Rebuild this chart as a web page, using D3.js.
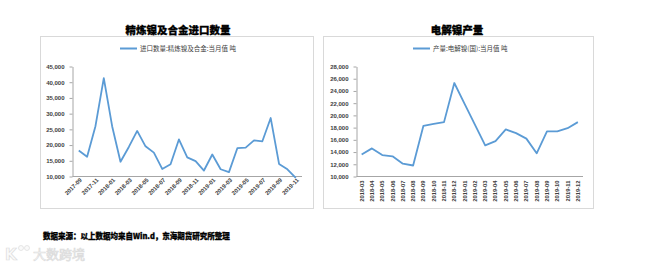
<!DOCTYPE html>
<html>
<head>
<meta charset="utf-8">
<script src="https://cdn.jsdelivr.net/npm/d3@7"></script>
<style>
  body { margin: 0; background: #fff; }
  svg { display: block; font-family: "Liberation Sans", "Noto Sans CJK SC", sans-serif; }
</style>
</head>
<body>
<svg id="chart" width="658" height="269"></svg>
<script>
// left: 精炼镍及合金进口数量
const importMonths = ['2017-09','2017-10','2017-11','2017-12','2018-01','2018-02','2018-03','2018-04',
    '2018-05','2018-06','2018-07','2018-08','2018-09','2018-10','2018-11','2018-12','2019-01','2019-02',
    '2019-03','2019-04','2019-05','2019-06','2019-07','2019-08','2019-09','2019-10','2019-11']
const importValues = [18300, 16300, 26000, 41300, 26000, 14700, 19400, 24500, 19600, 17600, 12400, 13900,
    21800, 16100, 14900, 11900, 17000, 12300, 11400, 19000, 19200, 21500, 21200, 28600, 14000, 12300, 9600]
const importTicks = [10000, 15000, 20000, 25000, 30000, 35000, 40000, 45000]

// right: 电解镍产量
const prodMonths = ['2018-03','2018-04','2018-05','2018-06','2018-07','2018-08','2018-09','2018-10',
    '2018-11','2018-12','2019-01','2019-02','2019-03','2019-04','2019-05','2019-06','2019-07','2019-08',
    '2019-09','2019-10','2019-11','2019-12']
const prodValues = [13600, 14600, 13500, 13300, 12100, 11800, 18300, 18600, 18900, 25300, 21900, 18500,
    15100, 15800, 17700, 17100, 16200, 13800, 17400, 17400, 17900, 18900]
const prodTicks = d3.range(10000, 28001, 2000)

const svg = d3.select('#chart')
const blue = '#5b9bd5'
const axisGrey = '#a6a6a6'
const fmt = d3.format(',')

function panel(opts) {
    const g = svg.append('g')

    // frame
    g.append('rect')
        .attr('x', opts.box[0] + .5).attr('y', opts.box[1] + .5)
        .attr('width', opts.box[2]).attr('height', opts.box[3])
        .attr('fill', '#fff').attr('stroke', '#d9d9d9')

    // title
    g.append('text')
        .attr('x', opts.titleX).attr('y', 34)
        .attr('text-anchor', 'middle')
        .attr('font-size', 10.5).attr('font-weight', 900)
        .attr('stroke', '#000').attr('stroke-width', .3)
        .attr('font-family', '"Noto Sans CJK SC", sans-serif')
        .text(opts.title)

    // legend
    g.append('line')
        .attr('x1', opts.legendX).attr('x2', opts.legendX + 17)
        .attr('y1', 48.5).attr('y2', 48.5)
        .attr('stroke', blue).attr('stroke-width', 2)
    g.append('text')
        .attr('x', opts.legendX + 20).attr('y', 51)
        .attr('font-size', 6.5)
        .attr('font-family', '"Noto Sans CJK SC", sans-serif')
        .attr('fill', '#404040')
        .text(opts.legend)

    const y = d3.scaleLinear()
        .domain(d3.extent(opts.ticks))
        .range([176.5, 66.5])

    const x = opts.x

    // y axis
    const ya = g.append('g')
        .attr('transform', `translate(${opts.left},0)`)
        .call(d3.axisLeft(y).tickValues(opts.ticks).tickFormat(fmt).tickSize(3).tickSizeOuter(0))
    ya.select('.domain').attr('stroke', axisGrey)
    ya.selectAll('.tick line').attr('stroke', axisGrey)
    ya.selectAll('.tick text')
        .attr('font-size', 6).attr('font-weight', 'bold').attr('fill', '#404040')
        .attr('font-family', '"Liberation Sans", sans-serif')
        .attr('dx', '-2')

    // x axis
    const xa = g.append('g')
        .attr('transform', 'translate(0,176.5)')
        .call(d3.axisBottom(x).tickValues(opts.xTicks).tickSize(0).tickSizeOuter(0))
    xa.select('.domain').attr('stroke', axisGrey).attr('d', `M${opts.left},0H${opts.right}`)
    xa.selectAll('.tick text')
        .attr('font-size', 5.8).attr('font-weight', 'bold').attr('fill', '#404040')
        .attr('font-family', '"Liberation Sans", sans-serif')
        .attr('text-anchor', 'end')
        .attr('dy', null).attr('y', 0)
        .attr('transform', opts.labelTransform)

    // line
    const line = d3.line()
        .x(d => x(d[0]) + (x.bandwidth ? x.bandwidth() / 2 : 0))
        .y(d => y(d[1]))
    g.append('path')
        .datum(d3.zip(opts.months, opts.values))
        .attr('d', line)
        .attr('fill', 'none')
        .attr('stroke', blue)
        .attr('stroke-width', 1.8)
        .attr('stroke-linejoin', 'round')
}

panel({
    box: [40, 36, 273, 172],
    title: '精炼镍及合金进口数量',
    titleX: 178,
    legend: '进口数量:精炼镍及合金:当月值 吨',
    legendX: 120,
    ticks: importTicks,
    left: 72.5, right: 302,
    x: d3.scalePoint().domain(importMonths).range([72.5, 302]).padding(.75),
    xTicks: importMonths.filter((d, i) => i % 2 === 0),
    months: importMonths, values: importValues,
    labelTransform: 'translate(3,4) rotate(-45)'
})

panel({
    box: [323, 36, 270, 172],
    title: '电解镍产量',
    titleX: 457,
    legend: '产量:电解镍(国):当月值 吨',
    legendX: 413,
    ticks: prodTicks,
    left: 356.5, right: 583,
    x: d3.scaleBand().domain(prodMonths).range([356.5, 583]),
    xTicks: prodMonths,
    months: prodMonths, values: prodValues,
    labelTransform: 'translate(2,4) rotate(-90)'
})

// source note
svg.append('text')
    .attr('x', 43).attr('y', 239)
    .attr('font-size', 7.5).attr('font-weight', 900)
    .attr('stroke', '#000').attr('stroke-width', .3)
    .attr('font-family', '"Noto Sans CJK SC", sans-serif')
    .text('数据来源：以上数据均来自Win.d，东海期货研究所整理')

// watermark
const wm = svg.append('g').attr('fill', '#fafafa').attr('stroke', '#dcdcdc').attr('stroke-width', .7)
wm.append('text')
    .attr('x', 5).attr('y', 260)
    .attr('font-size', 15).attr('font-weight', 'bold')
    .attr('font-family', '"DejaVu Sans", sans-serif')
    .text('K')
wm.append('circle').attr('cx', 21).attr('cy', 248).attr('r', 2.5)
wm.append('circle').attr('cx', 27).attr('cy', 248).attr('r', 2.5)
wm.append('text')
    .attr('x', 33).attr('y', 259)
    .attr('font-size', 13)
    .attr('font-family', '"Noto Sans CJK SC", sans-serif')
    .text('大数跨境')
</script>
</body>
</html>
